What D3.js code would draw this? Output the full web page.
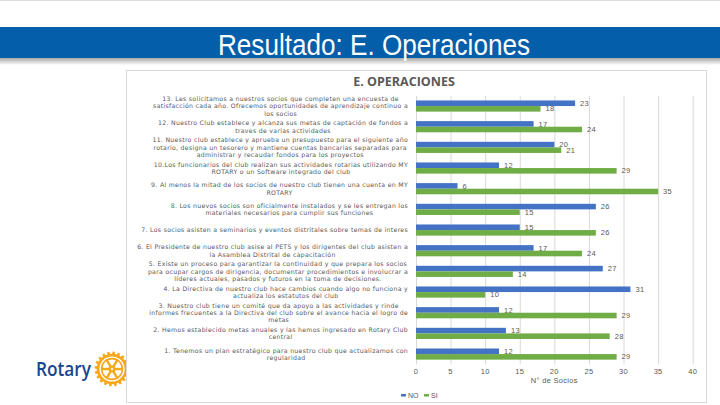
<!DOCTYPE html>
<html><head><meta charset="utf-8">
<script src="https://cdn.jsdelivr.net/npm/d3@7"></script>
<style>body{margin:0;background:#fff;}svg{display:block;}</style>
</head><body>
<svg id="c" width="720" height="405"></svg>
<script>
const categories = [
  "13. Les solicitamos a nuestros socios que completen una encuesta de\nsatisfacción cada año. Ofrecemos oportunidades de aprendizaje continuo a\nlos socios",
  "12. Nuestro Club establece y alcanza sus metas de captación de fondos a\ntraves de varias actividades",
  "11. Nuestro club establece y aprueba un presupuesto para el siguiente año\nrotario, designa un tesorero y mantiene cuentas bancarias separadas para\nadministrar y recaudar fondos para los proyectos",
  "10.Los funcionarios del club realizan sus actividades rotarias  utilizando MY\nROTARY o un Software integrado del club",
  "9. Al menos la mitad de los socios de nuestro club tienen una cuenta en MY\nROTARY",
  "8. Los nuevos socios son oficialmente instalados y se les entregan los\nmateriales necesarios para cumplir sus funciones",
  "7. Los socios asisten a seminarios y eventos distritales sobre temas de interes",
  "6. El Presidente de nuestro club asise al PETS y los dirigentes del club asisten a\nla Asamblea Distrital de capacitación",
  "5. Existe un proceso para garantizar la continuidad y que prepara los socios\npara ocupar cargos de dirigencia, documentar procedimientos e involucrar a\nlíderes actuales, pasados y futuros en la toma de decisiones.",
  "4. La Directiva de nuestro club hace cambios cuando algo no funciona y\nactualiza los estatutos del club",
  "3. Nuestro club tiene un comité que da apoyo a las actividades y rinde\ninformes frecuentes a la Directiva del club sobre el avance hacia el logro de\nmetas",
  "2. Hemos establecido metas anuales y las hemos ingresado en Rotary Club\ncentral",
  "1. Tenemos un plan estratégico para nuestro club que actualizamos con\nregularidad"
];
const noValues = [23, 17, 20, 12, 6, 26, 15, 17, 27, 31, 12, 13, 12];
const siValues = [18, 24, 21, 29, 35, 15, 26, 24, 14, 10, 29, 28, 29];
const seriesNames = ["NO", "SI"];
const xTicks = [0, 5, 10, 15, 20, 25, 30, 35, 40];
const slideTitle = "Resultado: E. Operaciones";
const chartTitle = "E. OPERACIONES";
const axisTitle = "N° de Socios";

(function () {
const colors = {NO: "#4472C4", SI: "#70AD47"};
const svg = d3.select("#c");

svg.append("rect").attr("x",0).attr("y",0).attr("width",720).attr("height",1).attr("fill","#dcdcdc");

const defs = svg.append("defs");
const g1 = defs.append("linearGradient").attr("id","sh").attr("x1",0).attr("y1",0).attr("x2",0).attr("y2",1);
g1.append("stop").attr("offset","0%").attr("stop-color","#a8a8a8");
g1.append("stop").attr("offset","100%").attr("stop-color","#ffffff");
svg.append("rect").attr("x",0).attr("y",58).attr("width",720).attr("height",7).attr("fill","url(#sh)");
svg.append("rect").attr("x",0).attr("y",27).attr("width",720).attr("height",31).attr("fill","#055EA9");
svg.append("text").attr("x",374).attr("y",55).attr("text-anchor","middle")
  .attr("font-family","'Liberation Sans Narrow','Arial Narrow','Liberation Sans',sans-serif")
  .attr("font-size",30).attr("fill","#fff")
  .attr("textLength",312).attr("lengthAdjust","spacingAndGlyphs")
  .text(slideTitle);

svg.append("text").attr("x",36).attr("y",376).attr("font-family","'Open Sans',sans-serif")
  .attr("font-weight",600).attr("font-size",19).attr("fill","#17458F")
  .attr("textLength",55).attr("lengthAdjust","spacingAndGlyphs").text("Rotary");
const gear = svg.append("g").attr("transform","translate(112,369)");
const teeth = 20, rOut = 17.5, rIn = 15.2;
const pts = [];
for (let i = 0; i < teeth; i++) {
  const a0 = (i / teeth) * 2 * Math.PI;
  const s = 2 * Math.PI / teeth;
  pts.push([rIn, a0], [rOut, a0 + s * 0.15], [rOut, a0 + s * 0.5], [rIn, a0 + s * 0.65]);
}
gear.append("path").attr("fill","#F7A81B")
  .attr("d", d3.lineRadial().angle(d => d[1]).radius(d => d[0]).curve(d3.curveLinearClosed)(pts));
gear.append("circle").attr("r",12.6).attr("fill","#fff");
gear.append("circle").attr("r",11.2).attr("fill","#F7A81B");
gear.append("circle").attr("r",9.6).attr("fill","#fff");
for (let i = 0; i < 6; i++) {
  const a = i * Math.PI / 3;
  gear.append("line").attr("x1",0).attr("y1",0)
    .attr("x2",10*Math.cos(a)).attr("y2",10*Math.sin(a))
    .attr("stroke","#F7A81B").attr("stroke-width",2.4);
}
gear.append("circle").attr("r",3.6).attr("fill","#F7A81B");
gear.append("rect").attr("x",-0.8).attr("y",-1.2).attr("width",1.6).attr("height",2.4).attr("fill","#fff");

svg.append("rect").attr("x",126.5).attr("y",70.5).attr("width",580).attr("height",332)
  .attr("fill","#fff").attr("stroke","#d9d9d9").attr("stroke-width",1);

svg.append("text").attr("x",404).attr("y",85.5).attr("text-anchor","middle")
  .attr("font-family","'Open Sans',sans-serif").attr("font-weight",700).attr("font-size",12.5)
  .attr("fill","#595959").text(chartTitle);

const pLeft = 416, pRight = 692.7, pTop = 95.7, pBottom = 364.4;
const x = d3.scaleLinear().domain([0, 40]).range([pLeft, pRight]);
const y = d3.scaleBand().domain(categories).range([pTop, pBottom]).paddingInner(0.46).paddingOuter(0.23);
const ys = d3.scaleBand().domain(seriesNames).range([0, y.bandwidth()]);

svg.append("g").selectAll("line").data(xTicks).join("line")
  .attr("x1", d => x(d) + 0.5).attr("x2", d => x(d) + 0.5)
  .attr("y1", pTop).attr("y2", pBottom).attr("stroke","#d9d9d9").attr("stroke-width",1);

const data = categories.map((c, i) => ({c, NO: noValues[i], SI: siValues[i]}));
const grp = svg.append("g").selectAll("g").data(data).join("g")
  .attr("transform", d => `translate(0,${y(d.c)})`);
seriesNames.forEach(s => {
  grp.append("rect").attr("x", x(0)).attr("y", ys(s)).attr("height", ys.bandwidth())
    .attr("width", d => x(d[s]) - x(0)).attr("fill", colors[s]);
  grp.append("text").attr("x", d => x(d[s]) + 5).attr("y", ys(s) + ys.bandwidth()/2)
    .attr("dy","0.35em").attr("font-family","'Liberation Sans',sans-serif").attr("font-size",7.5)
    .attr("letter-spacing",0.3)
    .attr("fill","#595959").text(d => d[s]);
});

const labelRight = 408;
const lineH = 7.3;
categories.forEach(c => {
  const lines = c.split("\n");
  const gT = svg.append("g");
  const cy = y(c) + y.bandwidth()/2;
  const texts = lines.map((l, i) => gT.append("text")
    .attr("y", cy + (i - (lines.length - 1)/2) * lineH).attr("dy","0.35em")
    .attr("font-family","'DejaVu Sans',sans-serif").attr("font-size",6.2)
    .attr("letter-spacing",0.3)
    .attr("fill","#595959").attr("text-anchor","middle").text(l));
  const w = d3.max(texts, t => t.node().getComputedTextLength());
  texts.forEach(t => t.attr("x", labelRight - w/2));
});

svg.append("g").selectAll("text").data(xTicks).join("text")
  .attr("x", d => x(d)).attr("y", 371).attr("dy","0.35em").attr("text-anchor","middle")
  .attr("font-family","'Liberation Sans',sans-serif").attr("font-size",7.5).attr("fill","#595959")
  .attr("letter-spacing",0.3)
  .text(d => d);
svg.append("text").attr("x",(pLeft+pRight)/2).attr("y",380.5).attr("dy","0.35em").attr("text-anchor","middle")
  .attr("font-family","'Liberation Sans',sans-serif").attr("font-size",7.5).attr("fill","#595959")
  .attr("letter-spacing",0.3)
  .text(axisTitle);

const leg = svg.append("g");
const legX = [401, 424];
seriesNames.forEach((s, i) => {
  leg.append("rect").attr("x", legX[i]).attr("y", 394).attr("width", 5).attr("height", 2.5).attr("fill", colors[s]);
  leg.append("text").attr("x", legX[i] + 7).attr("y", 395.5).attr("dy","0.35em")
    .attr("font-family","'Liberation Sans',sans-serif").attr("font-size",7).attr("fill","#595959").text(s);
});
})();
</script>
</body></html>
